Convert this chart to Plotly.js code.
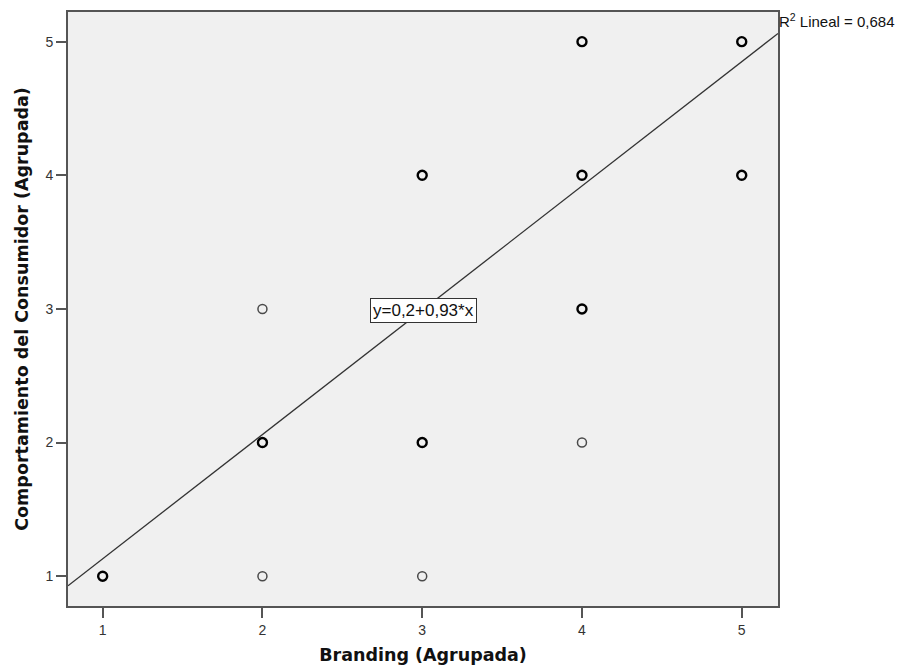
<!DOCTYPE html>
<html>
<head>
<meta charset="utf-8">
<script src="https://cdn.plot.ly/plotly-3.0.1.min.js"></script>
<style>body{margin:0;background:#fff}#chart{width:900px;height:668px}</style>
</head>
<body>
<div id="chart"></div>
<script>
// Points with several overlapping cases (drawn darker)
const manyX = [1, 2, 3, 4, 3, 4, 5, 4, 5];
const manyY = [1, 2, 2, 3, 4, 4, 4, 5, 5];
// Points with single cases (drawn lighter)
const singleX = [2, 3, 4, 2];
const singleY = [1, 1, 2, 3];
// Linear fit y = a + b*x
const fitA = 0.2;
const fitB = 0.93;
const fitXRange = [0.783, 5.227];
const fitLabel = 'y=0,2+0,93*x';
const r2Label = 'R<sup>2</sup> Lineal = 0,684';
const xTicks = [1, 2, 3, 4, 5];
const yTicks = [1, 2, 3, 4, 5];

const fitX = fitXRange;
const fitY = fitX.map(v => fitA + fitB * v);

const traces = [
  {x: fitX, y: fitY, mode: 'lines', line: {color: '#333333', width: 1.3}, hoverinfo: 'skip'},
  {x: singleX, y: singleY, mode: 'markers', marker: {symbol: 'circle-open', size: 9, color: '#4a4a4a', line: {width: 1.5, color: '#4a4a4a'}}},
  {x: manyX, y: manyY, mode: 'markers', marker: {symbol: 'circle-open', size: 9, color: '#000000', line: {width: 2.4, color: '#000000'}}}
];

const font = 'Liberation Sans, Arial, sans-serif';
const titleFont = 'DejaVu Sans, Liberation Sans, sans-serif';
const layout = {
  width: 900, height: 668,
  margin: {l: 68, r: 122, t: 12, b: 62},
  paper_bgcolor: '#ffffff',
  plot_bgcolor: '#f0f0f0',
  showlegend: false,
  font: {family: font, size: 14, color: '#222'},
  xaxis: {
    range: [0.783, 5.227], tickvals: xTicks, ticktext: xTicks.map(String),
    showgrid: false, zeroline: false, showline: true, linecolor: '#555', linewidth: 2, mirror: true,
    ticks: 'outside', ticklen: 10, tickwidth: 2, tickcolor: '#555',
    tickfont: {family: font, size: 14, color: '#333'},
    title: {text: '<b>Branding (Agrupada)</b>', font: {family: titleFont, size: 17.5, color: '#111'}, standoff: 12}
  },
  yaxis: {
    range: [0.777, 5.222], tickvals: yTicks, ticktext: yTicks.map(String),
    showgrid: false, zeroline: false, showline: true, linecolor: '#555', linewidth: 2, mirror: true,
    ticks: 'outside', ticklen: 10, tickwidth: 2, tickcolor: '#555',
    tickfont: {family: font, size: 14, color: '#333'},
    title: {text: '<b>Comportamiento del Consumidor (Agrupada)</b>', font: {family: titleFont, size: 17.5, color: '#111'}, standoff: 12}
  },
  annotations: [
    {x: 3.01, y: 2.99, xref: 'x', yref: 'y', text: fitLabel, showarrow: false,
     font: {family: font, size: 17, color: '#111'}, bgcolor: '#ffffff', bordercolor: '#333', borderwidth: 1, borderpad: 2},
    {x: 1.0, y: 1.0, xref: 'paper', yref: 'paper', xanchor: 'left', yanchor: 'top', yshift: 3, xshift: -1,
     text: r2Label, showarrow: false, font: {family: font, size: 15, color: '#111'}}
  ]
};

Plotly.newPlot('chart', traces, layout, {displayModeBar: false, staticPlot: true});
</script>
</body>
</html>
